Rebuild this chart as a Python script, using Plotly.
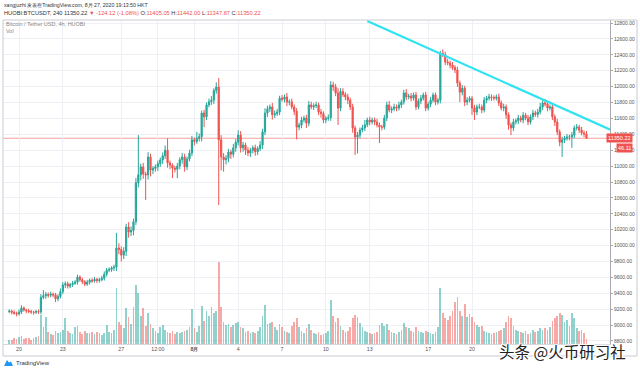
import pandas as pd
import plotly.graph_objects as go

# ---------------- data ----------------
START = "2020-07-19 08:00"          # first 4h candle (HKT)
first_open = 9170

closes = [
    9177, 9160, 9150, 9140, 9165, 9215, 9190, 9180, 9170, 9165,
    9160, 9170, 9165, 9350, 9370, 9385, 9375, 9390, 9380, 9330,
    9360, 9420, 9505, 9520, 9490, 9510, 9525, 9540, 9605, 9570,
    9545, 9515, 9540, 9565, 9555, 9575, 9560, 9570, 9590, 9640,
    9690, 9700, 9720, 9730, 9970, 9950, 9880, 9930, 10234, 10170,
    10190, 10300, 10790, 10890, 10990, 10900, 10890, 11115, 10950, 10970,
    10990, 11030, 11077, 11130, 11200, 11040, 11010, 10975, 10960, 11000,
    11080, 11115, 10990, 11090, 11165, 11330, 11310, 11350, 11370, 11668,
    11620, 11770, 11810, 11830, 11950, 11995, 11330, 11115, 11080, 11100,
    11177, 11150, 11230, 11300, 11390, 11230, 11265, 11200, 11165, 11200,
    11230, 11180, 11220, 11265, 11430, 11668, 11720, 11745, 11645, 11660,
    11680, 11855, 11840, 11870, 11805, 11810, 11745, 11690, 11490, 11517,
    11580, 11605, 11540, 11770, 11745, 11760, 11770, 11680, 11660, 11580,
    11600, 11610, 12020, 11995, 11920, 11730, 11940, 11900, 11870, 11830,
    11745, 11480, 11365, 11390, 11455, 11480, 11520, 11580, 11555, 11580,
    11555, 11517, 11490, 11490, 11605, 11770, 11705, 11720, 11745, 11730,
    11770, 11805, 11920, 11870, 11880, 11855, 11895, 11745, 11820, 11855,
    11895, 11730, 11780, 11830, 11895, 11805, 11830, 12420, 12400, 12310,
    12297, 12270, 12240, 12210, 12045, 11930, 11980, 11805, 11830, 11850,
    11730, 11680, 11745, 11745, 11705, 11830, 11855, 11870, 11860, 11855,
    11870, 11795, 11730, 11745, 11645, 11517, 11480, 11555, 11570, 11605,
    11580, 11640, 11605, 11555, 11620, 11668, 11650, 11680, 11745, 11795,
    11780, 11730, 11745, 11620, 11555, 11430, 11300, 11330, 11350, 11365,
    11365, 11390, 11480, 11490, 11455, 11417, 11405.05, 11350.22,
]

upper_wicks = [
    20, 15, 25, 20, 30, 35, 20, 15, 25, 20,
    15, 20, 25, 40, 70, 30, 25, 30, 20, 25,
    30, 40, 35, 30, 25, 20, 30, 25, 30, 20,
    25, 20, 30, 20, 25, 30, 20, 25, 30, 35,
    30, 25, 20, 30, 190, 60, 40, 50, 40, 60,
    50, 40, 60, 500, 40, 50, 30, 60, 40, 30,
    30, 40, 30, 40, 60, 150, 30, 25, 30, 40,
    30, 50, 40, 30, 40, 50, 30, 80, 40, 30,
    40, 30, 40, 50, 30, 60, 113, 60, 50, 40,
    40, 30, 50, 40, 60, 50, 40, 30, 40, 30,
    30, 40, 30, 50, 40, 60, 40, 30, 50, 40,
    40, 30, 40, 30, 50, 30, 40, 30, 40, 30,
    40, 30, 40, 50, 40, 30, 40, 30, 40, 30,
    30, 40, 50, 40, 40, 60, 40, 40, 30, 40,
    30, 40, 30, 40, 30, 40, 60, 30, 40, 30,
    30, 40, 30, 30, 40, 40, 50, 30, 40, 30,
    40, 30, 40, 50, 30, 40, 30, 40, 30, 40,
    30, 40, 30, 40, 30, 30, 30, 30, 50, 40,
    40, 30, 40, 30, 40, 30, 40, 30, 40, 30,
    30, 40, 30, 40, 30, 40, 30, 40, 30, 30,
    30, 40, 30, 40, 30, 30, 30, 40, 30, 40,
    30, 40, 30, 40, 30, 40, 30, 40, 50, 40,
    50, 40, 30, 40, 30, 40, 30, 40, 30, 40,
    30, 40, 30, 40, 30, 40, 30, 36.95,
]

lower_wicks = [
    20, 25, 20, 30, 20, 25, 20, 30, 20, 25,
    30, 20, 25, 30, 25, 40, 30, 25, 30, 40,
    30, 25, 30, 40, 30, 25, 30, 20, 30, 25,
    30, 25, 20, 30, 25, 20, 30, 25, 20, 30,
    30, 25, 30, 40, 50, 60, 80, 50, 60, 70,
    50, 60, 40, 60, 70, 60, 317, 60, 80, 50,
    40, 50, 40, 50, 40, 60, 50, 125, 40, 110,
    40, 50, 60, 40, 30, 40, 50, 30, 40, 60,
    130, 40, 30, 40, 50, 40, 820, 170, 150, 60,
    50, 60, 40, 50, 40, 60, 50, 60, 40, 50,
    40, 50, 40, 30, 50, 40, 50, 40, 60, 40,
    30, 40, 30, 40, 50, 40, 30, 50, 155, 40,
    40, 30, 60, 40, 30, 40, 30, 40, 50, 40,
    40, 30, 40, 50, 40, 213, 40, 30, 40, 50,
    40, 60, 225, 205, 40, 30, 40, 30, 40, 30,
    40, 30, 200, 40, 30, 40, 30, 40, 30, 40,
    30, 40, 30, 40, 30, 40, 30, 40, 30, 40,
    30, 40, 30, 40, 30, 40, 30, 40, 30, 40,
    30, 40, 30, 40, 50, 125, 40, 50, 40, 30,
    85, 100, 40, 30, 40, 30, 40, 30, 40, 30,
    30, 40, 30, 40, 50, 60, 90, 40, 30, 40,
    30, 40, 30, 40, 30, 40, 30, 40, 30, 40,
    30, 40, 30, 40, 50, 40, 50, 185, 40, 30,
    40, 135, 40, 30, 40, 30, 40, 2.35,
]

volumes = [
    40, 35, 50, 45, 60, 70, 45, 55, 50, 40,
    55, 60, 75, 260, 150, 245, 110, 90, 85, 120,
    95, 110, 130, 235, 120, 100, 90, 150, 160, 110,
    90, 120, 100, 95, 105, 90, 110, 95, 85, 100,
    170, 110, 95, 130, 505, 200, 170, 140, 325, 245,
    180, 335, 530, 460, 250, 325, 160, 280, 180, 140,
    120, 100, 150, 170, 130, 110, 100, 120, 90, 105,
    95, 110, 120, 130, 150, 315, 140, 110, 160, 340,
    210, 300, 250, 330, 280, 300, 740, 330, 200, 170,
    180, 150, 170, 190, 200, 150, 140, 110, 120, 100,
    110, 100, 120, 150, 250, 350, 180, 190, 200, 150,
    130, 180, 150, 120, 110, 100, 160, 200, 230, 150,
    120, 100, 140, 180, 130, 100, 90, 110, 80, 90,
    100, 120, 400, 250, 200, 230, 160, 130, 110, 120,
    150, 230, 260, 240, 190, 150, 120, 110, 100, 90,
    100, 110, 170, 190, 160, 180, 130, 110, 100, 90,
    110, 130, 190, 150, 140, 120, 110, 150, 120, 110,
    100, 120, 110, 100, 90, 110, 150, 500, 280, 230,
    220, 250, 300, 380, 420, 300, 250, 360, 240, 270,
    240, 200, 170, 150, 160, 120, 110, 100, 90, 100,
    110, 120, 130, 140, 200, 250, 230, 160, 130, 120,
    110, 100, 120, 90, 100, 130, 110, 120, 140, 130,
    140, 130, 150, 210, 230, 250, 280, 260, 200, 220,
    160, 280, 230, 140, 120, 130, 100, 46.11,
]

# trend line drawn on the chart (two anchor points: time, price)
trend_t = ["2020-08-12 20:00", "2020-08-29 12:00"]
trend_p = [12825, 11455]

last_price = 11350.22
last_vol = 46.11

tick_dates = ["2020-07-20", "2020-07-23", "2020-07-27", "2020-07-29 12:00", "2020-08-01",
              "2020-08-04", "2020-08-07", "2020-08-10", "2020-08-13", "2020-08-17", "2020-08-20"]
tick_text = ["20", "23", "27", "12:00", "<b>8月</b>", "4", "7", "10", "13", "17", "20"]
price_ticks = list(range(8800, 12801, 200))

# ---------------- build ----------------
n = len(closes)
times = pd.date_range(START, periods=n, freq="4h")
opens = [first_open] + closes[:-1]
highs = [max(o, c) + u for o, c, u in zip(opens, closes, upper_wicks)]
lows = [min(o, c) - l for o, c, l in zip(opens, closes, lower_wicks)]

UP = "#26a69a"
DN = "#ef5350"
UP_V = "rgba(38,166,154,0.5)"
DN_V = "rgba(239,83,80,0.5)"
vol_colors = [UP_V if c >= o else DN_V for o, c in zip(opens, closes)]

fig = go.Figure()
fig.add_trace(go.Bar(
    x=times, y=volumes, marker=dict(color=vol_colors, line=dict(width=0)),
    width=4 * 3600 * 1000 * 0.7, yaxis="y2", showlegend=False, hoverinfo="skip"))
fig.add_trace(go.Candlestick(
    x=times, open=opens, high=highs, low=lows, close=closes,
    increasing=dict(line=dict(color=UP, width=1), fillcolor=UP),
    decreasing=dict(line=dict(color=DN, width=1), fillcolor=DN),
    whiskerwidth=0, showlegend=False, yaxis="y", hoverinfo="skip"))
fig.add_trace(go.Scatter(
    x=trend_t, y=trend_p, mode="lines", line=dict(color="#2fe3f0", width=2.2),
    showlegend=False, hoverinfo="skip"))

L, R, T, B = 3, 610, 20, 344
W, H = 640, 371
PW, PH = R - L, B - T


def px(x):
    return (x - L) / PW


def py(y):
    return (B - y) / PH


FONT = "Liberation Sans, Arial, sans-serif"
GRID = "#eef0f5"

fig.update_layout(
    width=W, height=H,
    margin=dict(l=L, r=W - R, t=T, b=H - B),
    paper_bgcolor="white", plot_bgcolor="white",
    hovermode=False, dragmode=False,
    font=dict(family=FONT, size=5, color="#555"),
    title=dict(text="Bitcoin / Tether USD, 4h, HUOBI<br>Vol", x=6 / W, y=1 - 26 / H,
               xanchor="left", yanchor="top", xref="container", yref="container",
               font=dict(size=5.5, color="#888", family=FONT)),
    xaxis=dict(
        type="date", range=["2020-07-18 21:43", "2020-08-29 10:38"],
        tickvals=tick_dates, ticktext=tick_text, showgrid=True, gridcolor=GRID,
        gridwidth=1, showline=True, linecolor="#d6d8de", ticks="", zeroline=False,
        rangeslider=dict(visible=False), tickfont=dict(size=5.3, color="#555"),
        fixedrange=True),
    yaxis=dict(
        range=[8762, 12838], side="right", tickvals=price_ticks, tickformat=".2f",
        showgrid=True, gridcolor=GRID, showline=True, linecolor="#a8abb3",
        ticks="outside", ticklen=2, tickcolor="#a8abb3", zeroline=False,
        tickfont=dict(size=5, color="#555"), fixedrange=True),
    yaxis2=dict(range=[0, 2916], overlaying="y", visible=False, fixedrange=True),
    bargap=0,
    shapes=[
        dict(type="line", xref="paper", yref="y", x0=0, x1=1, y0=last_price, y1=last_price,
             line=dict(color="rgba(239,83,80,0.55)", width=1), layer="below"),
        dict(type="rect", xref="paper", yref="paper", x0=px(3), x1=px(637), y0=py(356), y1=py(20),
             line=dict(color="#c8cbd2", width=1), fillcolor="rgba(0,0,0,0)"),
        # TradingView logo cloud
        dict(type="path", xref="paper", yref="paper",
             path=f"M {px(4)},{py(366)} L {px(13)},{py(366)} L {px(11)},{py(361.5)} L {px(9)},{py(362.5)} L {px(7)},{py(360)} Z",
             fillcolor="#2196f3", line=dict(width=0)),
    ],
)

ann = []
ann.append(dict(xref="paper", yref="paper", x=px(2), y=py(5), xanchor="left", yanchor="middle",
                text="xangjuzhi 发表在TradingView.com, 8月 27, 2020 19:13:50 HKT",
                showarrow=False, font=dict(size=5.2, color="#333", family=FONT)))
red = "#ef5350"
line2 = ("HUOBI:BTCUSDT, 240 11350.22 "
         f"<span style='color:{red}'>▼ -124.12 (-1.08%)</span> "
         f"O:<span style='color:{red}'>11405.05</span> "
         f"H:<span style='color:{red}'>11442.00</span> "
         f"L:<span style='color:{red}'>11347.87</span> "
         f"C:<span style='color:{red}'>11350.22</span>")
ann.append(dict(xref="paper", yref="paper", x=px(2), y=py(13), xanchor="left", yanchor="middle",
                text=line2, showarrow=False, font=dict(size=5.7, color="#333", family=FONT)))
ann.append(dict(xref="paper", yref="y", x=px(633), y=last_price, xanchor="right", yanchor="middle",
                text=f"{last_price:.2f}", showarrow=False, bgcolor=red, borderpad=1,
                font=dict(size=5.5, color="white", family=FONT)))
ann.append(dict(xref="paper", yref="paper", x=px(633), y=py(147.5), xanchor="right", yanchor="middle",
                text=f"{last_vol:.2f}", showarrow=False, bgcolor=red, borderpad=1,
                font=dict(size=5.5, color="white", family=FONT)))
ann.append(dict(xref="paper", yref="paper", x=px(14), y=py(363), xanchor="left", yanchor="middle",
                text="TradingView", showarrow=False, font=dict(size=6, color="#333", family=FONT)))
ann.append(dict(xref="paper", yref="paper", x=px(562), y=py(350.5), xanchor="center", yanchor="middle",
                text="头条 @火币研习社", showarrow=False,
                font=dict(size=15.5, color="#222", family="Noto Sans CJK SC",
                          shadow="1px 1px 1px white, -1px -1px 1px white, 1px -1px 1px white, -1px 1px 1px white")))
fig.update_layout(annotations=ann)

fig.write_html("out.html", config={"displayModeBar": False, "staticPlot": True})
with open("out.html", encoding="utf-8") as f:
    html = f.read()
html = html.replace("<head>", "<head><style>html,body{margin:0;padding:0;overflow:hidden;}</style>", 1)
with open("out.html", "w", encoding="utf-8") as f:
    f.write(html)
